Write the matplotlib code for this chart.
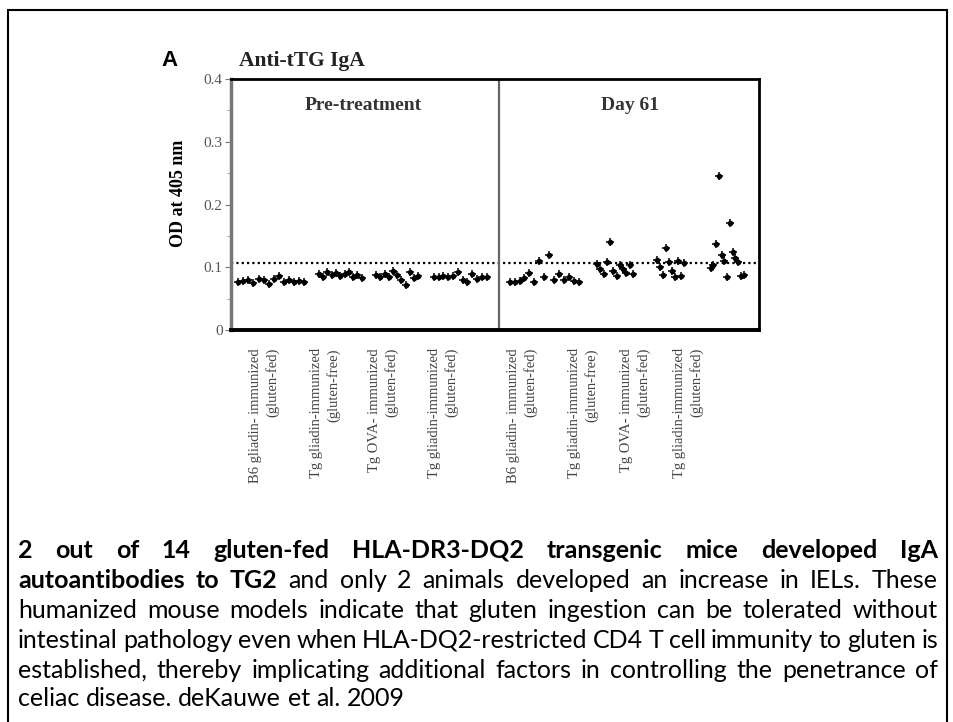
import numpy as np
import matplotlib
matplotlib.use("Agg")
import matplotlib.pyplot as plt
from matplotlib.patches import Rectangle
from matplotlib.ticker import MultipleLocator

# OD at 405 nm, each list read left to right from the picture
b6_pre = [0.077, 0.078, 0.080, 0.075, 0.082, 0.079, 0.074, 0.081, 0.086, 0.076, 0.079, 0.077, 0.078, 0.077]
tg_free_pre = [0.089, 0.084, 0.092, 0.087, 0.091, 0.086, 0.090, 0.093, 0.085, 0.088, 0.083]
ova_pre = [0.088, 0.085, 0.090, 0.084, 0.094, 0.087, 0.079, 0.071, 0.092, 0.083, 0.086]
tg_fed_pre = [0.085, 0.085, 0.086, 0.085, 0.086, 0.093, 0.080, 0.076, 0.089, 0.082, 0.085, 0.084]
b6_d61 = [0.077, 0.077, 0.078, 0.083, 0.091, 0.076, 0.110, 0.085, 0.119, 0.079, 0.090, 0.080, 0.085, 0.078, 0.076]
tg_free_d61 = [0.105, 0.097, 0.090, 0.108, 0.141, 0.094, 0.086, 0.103, 0.098, 0.091, 0.104, 0.089]
ova_d61 = [0.111, 0.100, 0.088, 0.131, 0.108, 0.094, 0.085, 0.110, 0.086, 0.107]
tg_fed_d61 = [0.099, 0.104, 0.137, 0.246, 0.120, 0.110, 0.085, 0.171, 0.125, 0.115, 0.109, 0.086, 0.087]
cutoff = 0.107

groups = [b6_pre, tg_free_pre, ova_pre, tg_fed_pre, b6_d61, tg_free_d61, ova_d61, tg_fed_d61]
labels = ["B6 gliadin- immunized\n(gluten-fed)", "Tg gliadin-immunized\n(gluten-free)",
          "Tg OVA- immunized\n(gluten-fed)", "Tg gliadin-immunized\n(gluten-fed)",
          "B6 gliadin- immunized\n(gluten-fed)", "Tg gliadin-immunized\n(gluten-free)",
          "Tg OVA- immunized\n(gluten-fed)", "Tg gliadin-immunized\n(gluten-fed)"]

# layout
group_x = [0.67, 1.82, 2.77, 3.82, 5.22, 6.40, 7.33, 8.27]
group_w = [1.10, 0.72, 0.70, 0.88, 1.15, 0.60, 0.45, 0.55]
label_x = [0.55, 1.57, 2.53, 3.53, 4.85, 5.87, 6.73, 7.62]
divider = 4.47

W, H = 954, 722
fig = plt.figure(figsize=(W / 100, H / 100), dpi=100)
fx = lambda px: px / W
fy = lambda py: 1 - py / H

ax = fig.add_axes([fx(231), fy(330), fx(759) - fx(231), fy(79) - fy(330)])
ax.set_xlim(0, 8.8)
ax.set_ylim(0, 0.4)

for xc, w, vals in zip(group_x, group_w, groups):
    xs = xc + np.linspace(-w / 2, w / 2, len(vals))
    ax.plot(xs, vals, "o", color="black", ms=3, zorder=3)
    ax.plot(xs, vals, "+", color="black", ms=5.5, mew=1.1, zorder=3)

ax.axhline(cutoff, color="black", lw=1.6, ls=(0, (1, 1.4)), zorder=2)
ax.axvline(divider, color="#666666", lw=1.6)

serif = "Liberation Serif"
ax.text(2.2, 0.358, "Pre-treatment", ha="center", va="center", family=serif,
        weight="bold", fontsize=14, color="#333333")
ax.text(6.65, 0.358, "Day 61", ha="center", va="center", family=serif,
        weight="bold", fontsize=14, color="#333333")

for s in ["top", "right", "bottom"]:
    ax.spines[s].set_color("black")
    ax.spines[s].set_linewidth(2)
ax.spines["bottom"].set_linewidth(2.8)
ax.spines["left"].set_color("#777777")
ax.spines["left"].set_linewidth(2.5)

ax.set_yticks([0, 0.1, 0.2, 0.3, 0.4])
ax.set_yticklabels(["0", "0.1", "0.2", "0.3", "0.4"], family=serif, fontsize=11, color="#555555")
ax.yaxis.set_minor_locator(MultipleLocator(0.05))
ax.tick_params(axis="y", which="major", length=4, color="#777777", pad=2)
ax.tick_params(axis="y", which="minor", length=3, color="#999999")

ax.set_xticks(label_x)
ax.set_xticklabels(labels, rotation=90, multialignment="right", family=serif,
                   fontsize=10.5, color="#444444", linespacing=1.3)
ax.tick_params(axis="x", length=0, pad=13)

ax.set_ylabel("OD at 405 nm", family=serif, weight="bold", fontsize=13)
ax.yaxis.set_label_coords((187 - 231) / 528, (330 - 193) / 251)

fig.text(fx(161), fy(60), "A", family="Liberation Sans", weight="bold", fontsize=16, va="center")
fig.text(fx(239), fy(61), "Anti-tTG IgA", family=serif, weight="bold", fontsize=15.5,
         va="center", color="#222222")

# caption, justified
cap_font = "Lato"
cap_size = 18
caption = [
    ([("2 out of 14 gluten-fed HLA-DR3-DQ2 transgenic mice developed IgA", True)], True),
    ([("autoantibodies to TG2", True), ("and only 2 animals developed an increase in IELs. These", False)], True),
    ([("humanized mouse models indicate that gluten ingestion can be tolerated without", False)], True),
    ([("intestinal pathology even when HLA-DQ2-restricted CD4 T cell immunity to gluten is", False)], True),
    ([("established, thereby implicating additional factors in controlling the penetrance of", False)], True),
    ([("celiac disease. deKauwe et al. 2009", False)], False),
]
line_y = [550, 580, 610, 640, 670, 699]
left, right = 18, 938

renderer = fig.canvas.get_renderer()
space = fig.text(0, 0, "a a", family=cap_font, fontsize=cap_size)
aa = fig.text(0, 0, "aa", family=cap_font, fontsize=cap_size)
space_w = space.get_window_extent(renderer).width - aa.get_window_extent(renderer).width
space.remove()
aa.remove()

for (segs, justify), py in zip(caption, line_y):
    words = []
    for txt, bold in segs:
        for wd in txt.split():
            t = fig.text(0, fy(py), wd, family=cap_font, fontsize=cap_size,
                         weight="bold" if bold else "normal", va="center")
            words.append(t)
    widths = [t.get_window_extent(renderer).width for t in words]
    gap = (right - left - sum(widths)) / (len(words) - 1) if justify else space_w
    x = left
    for t, w in zip(words, widths):
        t.set_x(fx(x))
        x += w + gap

fig.patches.append(Rectangle((fx(8), -0.05), fx(947) - fx(8), fy(10) + 0.05,
                             transform=fig.transFigure, fill=False, lw=1.5, ec="black"))

fig.savefig("out.png", dpi=100)
